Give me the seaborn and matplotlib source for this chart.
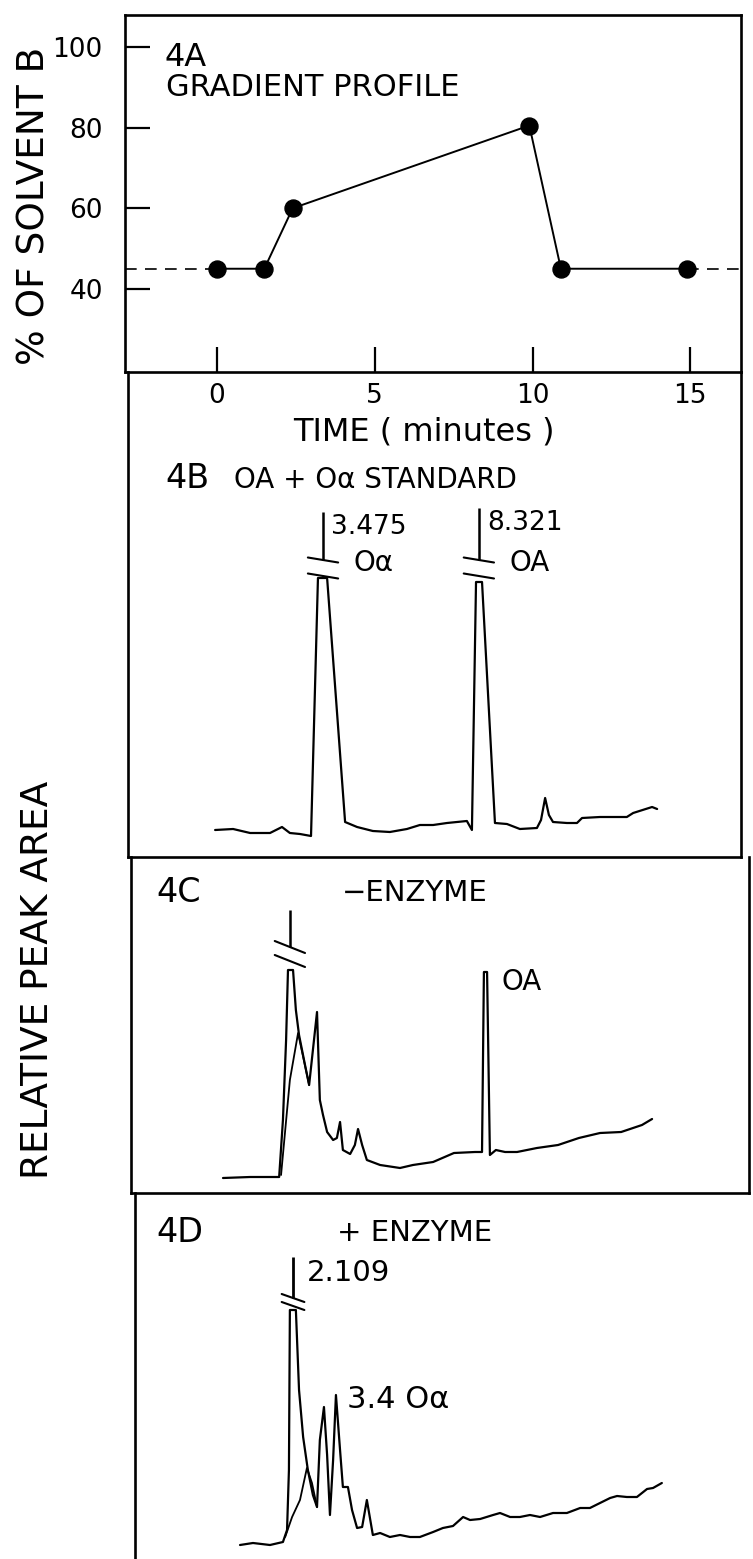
import matplotlib
matplotlib.use("Agg")
import matplotlib.pyplot as plt
import seaborn as sns

# ---------------- data ----------------
# 4A gradient profile (% of solvent B vs time, minutes)
grad_time = [0.0, 1.5, 2.4, 9.9, 10.9, 14.9]
grad_pct_b = [45, 45, 60, 80.5, 45, 45]
grad_hold = 45
grad_yticks = [40, 60, 80, 100]
time_ticks = [0, 5, 10, 15]

# 4B  OA + Oa standard (relative response, arbitrary units)
b_time = [-0.06, 0.51, 1.05, 1.68, 2.06, 2.31, 2.63, 2.98, 3.20, 3.49, 4.06, 4.44, 4.94, 5.48,
          6.02, 6.43, 6.85, 7.29, 7.92, 8.08, 8.21, 8.40, 8.81, 9.19, 9.60, 10.14, 10.27, 10.40,
          10.52, 10.65, 11.09, 11.41, 11.57, 12.14, 12.99, 13.19, 13.79, 13.95]
b_signal = [2.7, 2.8, 2.4, 2.4, 3.0, 2.4, 2.3, 2.1, 27.9, 27.9, 3.5, 3.0, 2.6, 2.5,
            2.8, 3.2, 3.2, 3.4, 3.6, 2.7, 27.5, 27.5, 3.4, 3.3, 2.8, 2.9, 3.7, 5.9,
            4.2, 3.5, 3.4, 3.4, 3.9, 4.0, 4.0, 4.4, 5.0, 4.8]
b_peak_time = [3.36, 8.30]
b_peak_top = [34.5, 34.9]
b_peak_rt = ["3.475", "8.321"]
b_peak_name = ["O\u03b1", "OA"]

# 4C  - enzyme
c_time = [0.19, 1.05, 1.97, 2.09, 2.19, 2.25, 2.41, 2.50, 2.60, 2.79, 2.92, 3.04, 3.17, 3.26,
          3.36, 3.49, 3.68, 3.80, 3.90, 3.99, 4.22, 4.37, 4.47, 4.60, 4.75, 5.17, 5.80, 6.21,
          6.85, 7.51, 8.18, 8.40, 8.46, 8.56, 8.65, 8.84, 9.13, 9.51, 10.14, 10.81, 11.47,
          12.14, 12.81, 13.47, 13.79]
c_signal = [1.5, 1.6, 1.6, 7.3, 15.3, 22.3, 22.3, 18.3, 15.8, 12.8, 10.8, 14.3, 18.1, 9.3,
            7.8, 6.1, 5.3, 5.5, 7.1, 4.3, 3.9, 4.8, 6.4, 4.8, 3.3, 2.8, 2.5, 2.8,
            3.1, 4.0, 4.1, 4.1, 22.1, 22.1, 3.8, 4.3, 4.1, 4.1, 4.5, 4.8, 5.5,
            6.0, 6.1, 6.8, 7.4]
c_env_time = [2.03, 2.31, 2.57, 2.92]
c_env_signal = [1.8, 11.3, 16.0, 10.8]
c_peak_time = 2.31
c_peak_top = 28.3
c_oa_time = 8.51
c_oa_top = 22.1

# 4D  + enzyme
d_time = [0.73, 1.14, 1.68, 2.09, 2.22, 2.28, 2.31, 2.50, 2.60, 2.73, 2.88, 3.04, 3.17, 3.26,
          3.39, 3.49, 3.58, 3.68, 3.77, 3.90, 3.99, 4.15, 4.28, 4.44, 4.60, 4.75, 4.94, 5.17,
          5.48, 5.80, 6.12, 6.43, 6.85, 7.16, 7.48, 7.80, 8.02, 8.34, 8.75, 8.97, 9.29, 9.60,
          9.92, 10.24, 10.65, 11.09, 11.51, 11.82, 12.14, 12.46, 12.68, 12.99, 13.31, 13.63,
          13.82, 14.10]
d_signal = [1.4, 1.6, 1.4, 1.7, 2.9, 8.9, 24.9, 24.9, 16.9, 12.2, 8.9, 6.4, 5.2, 11.9,
            15.2, 10.4, 4.4, 9.9, 16.4, 10.9, 7.2, 7.2, 4.9, 3.1, 3.2, 5.9, 2.4, 2.6,
            2.2, 2.4, 2.2, 2.2, 2.7, 3.1, 3.3, 4.2, 3.9, 4.0, 4.4, 4.6, 4.2, 4.2,
            4.4, 4.2, 4.6, 4.6, 5.1, 5.1, 5.6, 6.1, 6.3, 6.2, 6.2, 7.0,
            7.1, 7.6]
d_env_time = [2.16, 2.38, 2.63, 2.85, 3.01, 3.17]
d_env_signal = [2.2, 4.2, 5.9, 9.1, 7.6, 5.2]
d_peak_time = 2.41
d_peak_top = 30.2
d_oa_time = 3.77
d_oa_top = 16.4

# ---------------- style ----------------
sns.set_theme(style="white")
plt.rcParams["font.family"] = ["DejaVu Sans"]
for k in ["text.color", "axes.labelcolor", "xtick.color", "ytick.color", "axes.edgecolor"]:
    plt.rcParams[k] = "black"

W, H = 753, 1559
fig = plt.figure(figsize=(W / 100, H / 100), dpi=100)
fig.patch.set_facecolor("white")

T0_PX, PX_PER_MIN = 217.0, 31.55   # horizontal time scale shared by all panels
FRAME_LW, TRACE_LW = 1.9, 1.6


def px_axes(left, top, right, bottom):
    ax = fig.add_axes([left / W, 1 - bottom / H, (right - left) / W, (bottom - top) / H])
    ax.set_xlim((left - T0_PX) / PX_PER_MIN, (right - T0_PX) / PX_PER_MIN)
    ax.set_facecolor("none")
    for sp in ax.spines.values():
        sp.set_linewidth(FRAME_LW)
        sp.set_color("black")
    return ax


def ftext(x, y, s, **kw):
    fig.text(x / W, 1 - y / H, s, **kw)


def break_marks(ax, t, s_up, s_low, half_w=0.48, drop=0.9):
    for s in (s_up, s_low):
        sns.lineplot(x=[t - half_w, t + half_w], y=[s + drop / 2, s - drop / 2], ax=ax,
                     color="black", lw=1.5, sort=False, estimator=None)


def trace(ax, t, s, lw=TRACE_LW):
    sns.lineplot(x=t, y=s, ax=ax, color="black", lw=lw, sort=False, estimator=None)


# ---------------- 4A ----------------
ax_a = px_axes(125, 15, 741, 372)
ax_a.set_ylim(19.4, 107.9)
trace(ax_a, grad_time, grad_pct_b, lw=1.4)
sns.scatterplot(x=grad_time, y=grad_pct_b, ax=ax_a, color="black", s=150,
                edgecolor="black", zorder=3, legend=False)
xl = ax_a.get_xlim()
for xs in ([xl[0], grad_time[0]], [grad_time[-1], xl[1]]):
    ax_a.plot(xs, [grad_hold, grad_hold], color="black", lw=1.2, ls=(0, (7, 5)))
ax_a.set_xticks(time_ticks)
ax_a.set_yticks(grad_yticks)
ax_a.tick_params(axis="x", direction="in", length=18, width=1.6, labelsize=19, pad=8,
                 bottom=True, top=False)
ax_a.tick_params(axis="y", direction="in", length=18, width=1.6, labelsize=19, pad=16,
                 left=True, right=False)
ax_a.set_xlabel("TIME ( minutes )", fontsize=23, va="center")
ax_a.xaxis.set_label_coords((424 - 125) / 616, (372 - 432) / 357)
ax_a.set_ylabel("% OF SOLVENT B", fontsize=27, va="center")
ax_a.yaxis.set_label_coords((35 - 125) / 616, (372 - 206) / 357)
ftext(165, 58, "4A", fontsize=23, va="center", ha="left")
ftext(166, 87, "GRADIENT PROFILE", fontsize=22, va="center", ha="left")

# ---------------- 4B ----------------
ax_b = px_axes(128, 372, 741, 857)
ax_b.set_ylim(0, 48.5)
ax_b.spines["top"].set_visible(False)
ax_b.set_xticks([]); ax_b.set_yticks([])
trace(ax_b, b_time, b_signal)
for t, top, rt, name in zip(b_peak_time, b_peak_top, b_peak_rt, b_peak_name):
    ax_b.vlines(t, 29.7, top, color="black", lw=1.8)
    break_marks(ax_b, t, 29.7, 28.1, drop=0.5)
    ax_b.text(t + 0.25, top - 1.5, rt, fontsize=19, ha="left", va="center")
    ax_b.text(t + 0.98, 29.4, name, fontsize=20, ha="left", va="center")
ftext(165, 478, "4B", fontsize=24, va="center", ha="left")
ftext(234, 480, "OA + O\u03b1 STANDARD", fontsize=20, va="center", ha="left")

# ---------------- 4C ----------------
ax_c = px_axes(131, 857, 749, 1193)
ax_c.set_ylim(0, 33.6)
ax_c.spines["top"].set_visible(False)
ax_c.set_xticks([]); ax_c.set_yticks([])
trace(ax_c, c_time, c_signal)
trace(ax_c, c_env_time, c_env_signal, lw=1.3)
ax_c.vlines(c_peak_time, 24.6, c_peak_top, color="black", lw=1.8)
break_marks(ax_c, c_peak_time, 24.6, 23.2, half_w=0.48, drop=1.2)
ax_c.text(c_oa_time + 0.5, c_oa_top - 1.0, "OA", fontsize=20, ha="left", va="center")
ftext(156, 893, "4C", fontsize=24, va="center", ha="left")
ftext(342, 893, "\u2212ENZYME", fontsize=21, va="center", ha="left")

# ---------------- 4D ----------------
ax_d = px_axes(135, 1193, 760, 1559)
ax_d.set_ylim(0, 36.6)
ax_d.spines["top"].set_visible(False)
ax_d.spines["right"].set_visible(False)
ax_d.spines["bottom"].set_visible(False)
ax_d.set_xticks([]); ax_d.set_yticks([])
trace(ax_d, d_time, d_signal)
trace(ax_d, d_env_time, d_env_signal, lw=1.3)
ax_d.vlines(d_peak_time, 26.1, d_peak_top, color="black", lw=2.0)
break_marks(ax_d, d_peak_time, 26.1, 25.3, half_w=0.36, drop=0.8)
ax_d.text(d_peak_time + 0.45, d_peak_top - 1.6, "2.109", fontsize=21, ha="left", va="center")
ax_d.text(d_oa_time + 0.35, d_oa_top - 0.4, "3.4 O\u03b1", fontsize=22, ha="left", va="center")
ftext(156, 1233, "4D", fontsize=24, va="center", ha="left")
ftext(337, 1233, "+ ENZYME", fontsize=21, va="center", ha="left")

# shared y label for the chromatograms
ftext(38, 980, "RELATIVE PEAK AREA", fontsize=27, rotation=90, va="center", ha="center")

fig.savefig("out.png", dpi=100, facecolor="white")
